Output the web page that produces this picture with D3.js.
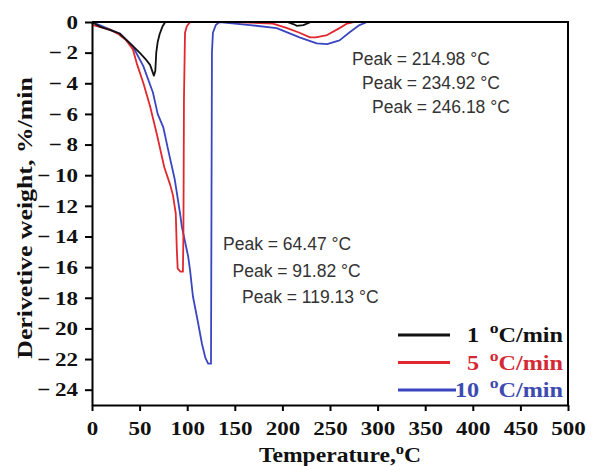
<!DOCTYPE html>
<html>
<head>
<meta charset="utf-8">
<script src="https://cdn.jsdelivr.net/npm/d3@7"></script>
<style>
  body { margin: 0; background: #fff; }
  svg { display: block; }
</style>
</head>
<body>
<svg id="chart" width="596" height="466"></svg>
<script>
var width = 596;
var height = 466;
var margin = {top: 22, right: 28, bottom: 61, left: 92};
var stretch = 1.18; // serif text in the figure is set wide

// 1 °C/min
var temp1 = [0, 8, 20, 29, 40, 50, 56, 61, 65, 66.5, 67.5, 69, 71, 74, 77, 150, 205, 212, 215, 222, 230, 280];
var deriv1 = [0, -0.3, -0.55, -0.75, -1.4, -2.0, -2.4, -2.8, -3.5, -3.2, -2.0, -1.3, -0.8, -0.3, 0, 0, 0, -0.15, -0.25, -0.2, 0, 0];

// 5 °C/min
var temp5 = [0, 1, 10, 19, 28, 36, 43, 47, 54, 61, 68, 76, 82, 85, 88, 89, 90, 93, 95.5, 96, 96.3, 96.6, 97.7, 99.5, 103, 150, 190, 205, 218, 229, 235, 247, 260, 268, 275, 300];
var deriv5 = [0, -0.2, -0.35, -0.5, -0.8, -1.2, -1.8, -2.7, -4.0, -5.5, -7.3, -9.5, -10.6, -11.3, -12.5, -14.7, -16.1, -16.3, -16.3, -14, -10, -5, -0.7, -0.3, 0, 0, -0.1, -0.4, -0.7, -1.0, -1.0, -0.85, -0.4, -0.1, 0, 0];

// 10 °C/min
var temp10 = [0, 8, 29, 43, 54, 64, 69, 75, 80, 87, 92.5, 94.5, 101, 103, 106, 111, 115.5, 119, 122, 125, 125.5, 126, 127, 130, 134, 166, 194, 218, 236, 247, 260, 271, 281, 289, 500];
var deriv10 = [0, -0.2, -0.75, -1.6, -2.9, -4.6, -6.0, -6.9, -8.35, -10.3, -12.5, -13.4, -15.3, -16.2, -17.9, -19.5, -21, -21.9, -22.3, -22.3, -12, -2, -0.7, -0.2, 0, -0.2, -0.4, -1.0, -1.4, -1.45, -1.2, -0.65, -0.2, 0, 0];

var seriesNames = ["1", "5", "10"];
var seriesColors = ["#111111", "#e0282e", "#3a46c0"];
var legendColors = ["#111111", "#d42a36", "#3d4ab0"];

var xTicks = [0, 50, 100, 150, 200, 250, 300, 350, 400, 450, 500];
var yTicks = [0, -2, -4, -6, -8, -10, -12, -14, -16, -18, -20, -22, -24];

var peakLabelsHigh = ["Peak = 214.98 °C", "Peak = 234.92 °C", "Peak = 246.18 °C"];
var peakLabelsLow = ["Peak = 64.47 °C", "Peak = 91.82 °C", "Peak = 119.13 °C"];

var svg = d3.select("#chart");

var x = d3.scaleLinear().domain([0, 500]).range([margin.left, width - margin.right]);
var y = d3.scaleLinear().domain([-25, 0]).range([height - margin.bottom, margin.top]);

var serif = "'Liberation Serif', 'Times New Roman', serif";
var sans = "'Liberation Sans', Arial, sans-serif";

// curves
var series = [
  {name: "1", t: temp1, d: deriv1},
  {name: "5", t: temp5, d: deriv5},
  {name: "10", t: temp10, d: deriv10}
];

var line = d3.line()
    .x(d => x(d[0]))
    .y(d => y(d[1]));

svg.append("g")
  .selectAll("path")
  .data([series[2], series[1], series[0]])
  .join("path")
    .attr("fill", "none")
    .attr("stroke", d => seriesColors[seriesNames.indexOf(d.name)])
    .attr("stroke-width", 1.8)
    .attr("stroke-linejoin", "round")
    .attr("d", d => line(d.t.map((t, i) => [t, d.d[i]])));

// frame top + right
svg.append("path")
  .attr("fill", "none")
  .attr("stroke", "#000")
  .attr("stroke-width", 2)
  .attr("d", "M" + margin.left + "," + margin.top + "H" + (width - margin.right) + "V" + (height - margin.bottom));

// axes
var xAxis = svg.append("g")
  .attr("transform", "translate(0," + (height - margin.bottom) + ")")
  .call(d3.axisBottom(x).tickValues(xTicks).tickSize(6).tickPadding(10).tickSizeOuter(0));

var yAxis = svg.append("g")
  .attr("transform", "translate(" + margin.left + ",0)")
  .call(d3.axisLeft(y).tickValues(yTicks).tickSize(7).tickPadding(6).tickSizeOuter(0)
    .tickFormat(d => d === 0 ? "0" : "\u2212\u2009" + Math.abs(d)));

[xAxis, yAxis].forEach(function(a) {
  a.select(".domain").attr("stroke-width", 2);
  a.selectAll(".tick line").attr("stroke-width", 2);
  a.selectAll(".tick text")
    .attr("font-family", serif)
    .attr("font-weight", "bold")
    .attr("font-size", 19.5)
    .attr("fill", "#111")
    .attr("transform", "scale(" + stretch + ",1)");
});
yAxis.selectAll(".tick text").attr("x", -14 / stretch);

// axis titles
var xt = svg.append("text")
  .attr("transform", "translate(340,462) scale(" + stretch + ",1)")
  .attr("text-anchor", "middle")
  .attr("font-family", serif)
  .attr("font-weight", "bold")
  .attr("font-size", 20)
  .attr("fill", "#111");
xt.append("tspan").text("Temperature,");
xt.append("tspan").attr("font-size", 14).attr("dy", -8).text("o");
xt.append("tspan").attr("dy", 8).text("C");

svg.append("text")
  .attr("transform", "translate(32,218) rotate(-90) scale(1.2,1)")
  .attr("text-anchor", "middle")
  .attr("font-family", serif)
  .attr("font-weight", "bold")
  .attr("font-size", 21.5)
  .attr("fill", "#111")
  .text("Derivetive weight, %/min");

// peak annotations
svg.append("g")
  .selectAll("text")
  .data(peakLabelsHigh)
  .join("text")
    .attr("x", (d, i) => 352 + i * 10)
    .attr("y", (d, i) => 65 + i * 24)
    .attr("font-family", sans)
    .attr("font-size", 17.5)
    .attr("fill", "#333")
    .text(d => d);

svg.append("g")
  .selectAll("text")
  .data(peakLabelsLow)
  .join("text")
    .attr("x", (d, i) => 223 + i * 9.5)
    .attr("y", (d, i) => 250 + i * 26.5)
    .attr("font-family", sans)
    .attr("font-size", 17.5)
    .attr("fill", "#333")
    .text(d => d);

// legend
var legend = svg.append("g")
  .selectAll("g")
  .data(seriesNames)
  .join("g")
    .attr("transform", (d, i) => "translate(0," + (335 + i * 27.5) + ")");

legend.append("line")
  .attr("x1", 398).attr("x2", (d, i) => i === 2 ? 456 : 450)
  .attr("stroke", (d, i) => seriesColors[i])
  .attr("stroke-width", 3);

var lt = legend.append("text")
  .attr("transform", "translate(563,7) scale(" + stretch + ",1)")
  .attr("text-anchor", "end")
  .attr("font-family", serif)
  .attr("font-weight", "bold")
  .attr("font-size", 20.5)
  .attr("fill", (d, i) => legendColors[i]);
lt.append("tspan").text(d => d);
lt.append("tspan").attr("font-size", 15).attr("dx", 9).attr("dy", -9).text("o");
lt.append("tspan").attr("dy", 9).text("C/min");
</script>
</body>
</html>
